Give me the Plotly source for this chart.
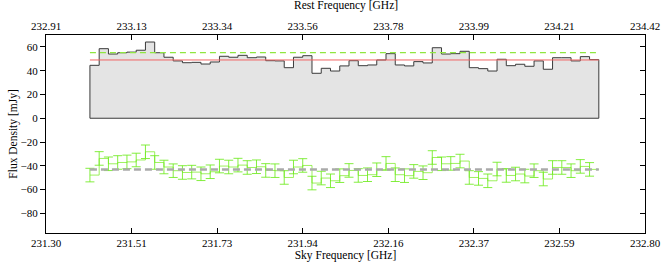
import numpy as np
import plotly.graph_objects as go

# ---- data ----
chan0_ghz = 231.410          # sky frequency of first channel's left edge
chan_width_ghz = 0.02317     # channel width
flux_mjy = [44.5, 58.5, 54.0, 55.1, 55.6, 57.2, 64.1, 55.1, 51.3, 48.2,
            46.7, 47.0, 45.6, 47.3, 52.1, 51.3, 52.9, 50.9, 51.5, 48.4,
            48.2, 42.5, 51.3, 52.6, 37.8, 42.0, 39.7, 44.0, 48.4, 44.2,
            44.8, 49.0, 54.3, 44.8, 44.0, 47.6, 46.5, 59.3, 54.0, 54.3,
            56.3, 42.5, 41.7, 39.7, 49.6, 44.2, 45.4, 43.7, 48.2, 41.2,
            50.9, 50.9, 48.2, 51.8, 49.3]
lower_mjy = [-47.8, -33.8, -38.3, -37.2, -36.7, -35.1, -28.2, -37.2, -41.0, -44.1,
             -45.6, -45.3, -46.7, -45.0, -40.2, -41.0, -39.4, -41.4, -40.8, -43.9,
             -44.1, -49.8, -41.0, -39.7, -54.5, -50.3, -52.6, -48.3, -43.9, -48.1,
             -47.5, -43.3, -38.0, -47.5, -48.3, -44.7, -45.8, -33.0, -38.3, -38.0,
             -36.0, -49.8, -50.6, -52.6, -42.7, -48.1, -46.9, -48.6, -44.1, -51.1,
             -41.4, -41.4, -44.1, -40.5, -43.0]
err_mjy = 5.7
model_level = 49.0     # red line
peak_level = 55.2      # green dashed
lower_level = -43.2    # gray dashed

sky_range = [231.30, 232.80]
rest_range = [232.91, 234.42]
sky_ticktext = ["231.30", "231.51", "231.73", "231.94", "232.16", "232.37", "232.59", "232.80"]
rest_ticktext = ["232.91", "233.13", "233.34", "233.56", "233.78", "233.99", "234.21", "234.42"]
y_ticks = [-80, -60, -40, -20, 0, 20, 40, 60]

# ---- derived ----
n = len(flux_mjy)
edges = chan0_ghz + chan_width_ghz * np.arange(n + 1)
x_lo, x_hi = edges[0], edges[-1]

font = "Liberation Serif, Times New Roman, serif"
fig = go.Figure()

# filled step histogram
hx = [x_lo] + list(edges[:n]) + [x_hi, x_hi, x_lo]
hy = [0] + list(flux_mjy) + [flux_mjy[-1], 0, 0]
fig.add_trace(go.Scatter(x=hx, y=hy, mode="lines", line=dict(shape="hv", color="#3a3a3a", width=1),
                         fill="toself", fillcolor="#e4e4e4", hoverinfo="skip", showlegend=False))

# horizontal levels
fig.add_trace(go.Scatter(x=[x_lo, x_hi], y=[model_level] * 2, mode="lines",
                         line=dict(color="rgb(240,100,100)", width=1), showlegend=False))
fig.add_trace(go.Scatter(x=[x_lo, x_hi], y=[peak_level] * 2, mode="lines",
                         line=dict(color="#8fe640", width=1.3, dash="6px,4px"), showlegend=False))

# lower step spectrum with error bars
fig.add_trace(go.Scatter(x=list(edges), y=list(lower_mjy) + [lower_mjy[-1]], mode="lines",
                         line=dict(shape="hv", color="rgba(124,235,40,0.75)", width=1), showlegend=False))
fig.add_trace(go.Scatter(x=list(edges[:n]), y=lower_mjy, mode="markers",
                         marker=dict(size=1, color="rgba(0,0,0,0)"),
                         error_y=dict(type="constant", value=err_mjy, color="rgba(110,235,30,0.85)",
                                      thickness=1, width=4.5), showlegend=False))
fig.add_trace(go.Scatter(x=[x_lo, x_hi], y=[lower_level] * 2, mode="lines",
                         line=dict(color="#aaaaaa", width=2.5, dash="7px,4px"), showlegend=False))

# dummy trace for top/right axes
fig.add_trace(go.Scatter(x=[None], y=[None], xaxis="x2", yaxis="y2", showlegend=False, hoverinfo="skip"))

axis_common = dict(showline=True, linecolor="black", linewidth=1, showgrid=False, zeroline=False,
                   automargin=False,
                   tickcolor="black", ticklen=5, tickfont=dict(family=font, size=11, color="black"))

fig.update_layout(
    width=664, height=266,
    margin=dict(l=46, r=19, t=35, b=33),
    paper_bgcolor="white", plot_bgcolor="white",
    font=dict(family=font, size=11, color="black"),
    xaxis=dict(range=sky_range, tickmode="array",
               tickvals=list(np.linspace(sky_range[0], sky_range[1], 8)), ticktext=sky_ticktext,
               ticks="inside", title=dict(text="Sky Frequency [GHz]", font=dict(family=font, size=11.5), standoff=0),
               **axis_common),
    xaxis2=dict(range=rest_range, overlaying="x", side="top", tickmode="array",
                tickvals=list(np.linspace(rest_range[0], rest_range[1], 8)), ticktext=rest_ticktext,
                ticks="inside", **axis_common),
    yaxis=dict(range=[-96.5, 70], tickmode="array", tickvals=y_ticks,
               ticktext=[("\u2212%d" % -v) if v < 0 else str(v) for v in y_ticks],
               ticks="outside", title=dict(text="Flux Density [mJy]", font=dict(family=font, size=11.5), standoff=0),
               **axis_common),
    yaxis2=dict(range=[-96.5, 70], overlaying="y", side="right", tickmode="array", tickvals=y_ticks,
                ticks="inside", showticklabels=False, **axis_common),
    annotations=[dict(text="Rest Frequency [GHz]", xref="paper", yref="paper", x=0.5, y=1.149,
                      xanchor="center", yanchor="middle", showarrow=False,
                      font=dict(family=font, size=11.5, color="black"))],
)

fig.write_html("out.html", config={"displayModeBar": False, "staticPlot": True},
               post_script="document.body.style.margin='0px';document.body.style.overflow='hidden';")
